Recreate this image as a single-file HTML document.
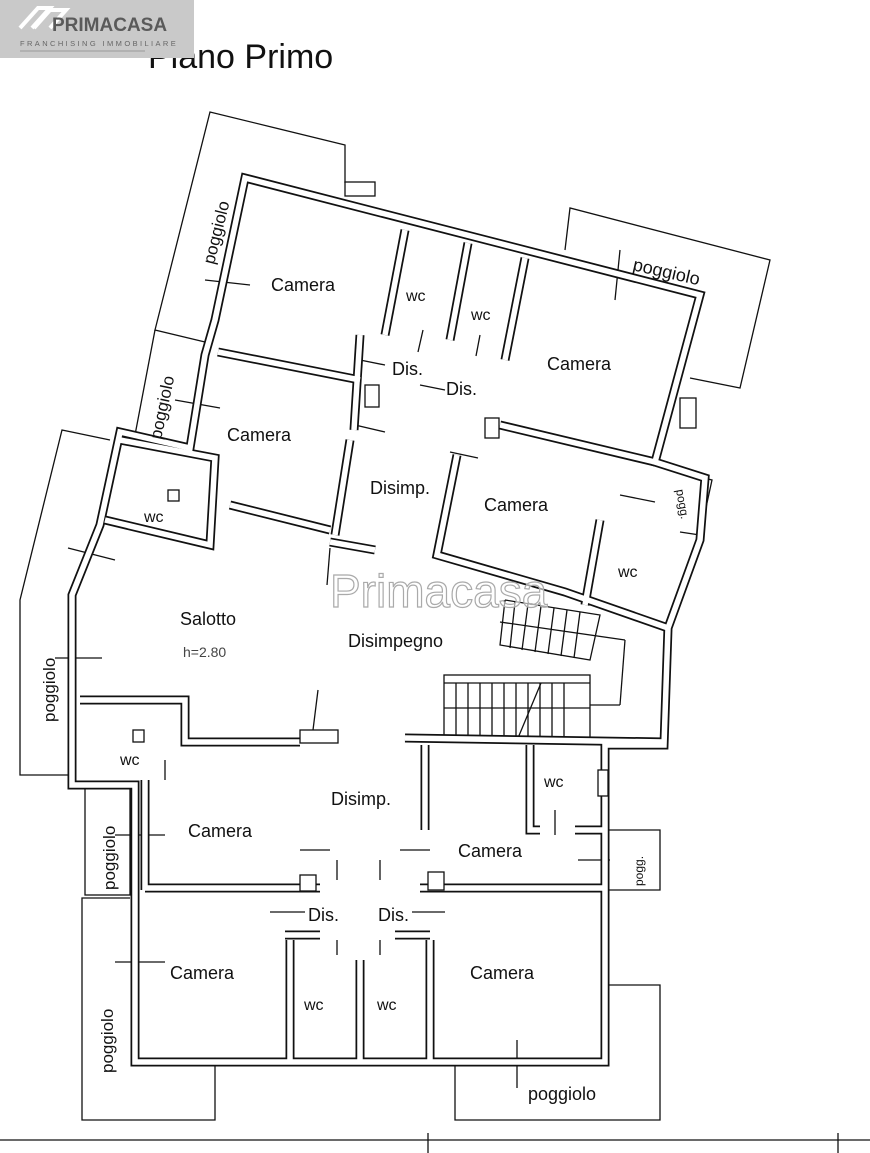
<!DOCTYPE html>
<html><head><meta charset="utf-8"><style>
html,body{margin:0;padding:0;background:#fff;}
svg{display:block}
text{font-family:"Liberation Sans",Arial,sans-serif;fill:#111}
</style></head><body>
<svg width="870" height="1153" viewBox="0 0 870 1153" xmlns="http://www.w3.org/2000/svg">
<rect width="870" height="1153" fill="#fff"/>
<text x="148" y="68" font-size="34">Piano Primo</text>
<!-- logo -->
<rect x="0" y="0" width="194" height="58" fill="#c9c9c9"/>
<path d="M20 28 L38 8 L50 8 L32 28 M34 28 L50 10 L66 10 L50 28" stroke="#fff" stroke-width="4" fill="none"/>
<text x="52" y="31" font-size="19" font-weight="bold" fill="#555" style="fill:#5a5a5a">PRIMACASA</text>
<text x="20" y="46" font-size="7.5" letter-spacing="2.4" style="fill:#666">FRANCHISING IMMOBILIARE</text>
<line x1="20" y1="51" x2="145" y2="51" stroke="#888" stroke-width="0.8"/>

<g fill="none" stroke="#111" stroke-width="1.3">
<!-- balconies -->
<polyline points="345,183 345,145 210,112 155,330 205,342"/>
<polyline points="155,330 135,435 185,447"/>
<polyline points="565,250 570,208 770,260 740,388 690,378"/>
<polyline points="110,440 62,430 20,600 20,775 70,775"/>
<polyline points="672,470 712,480 700,535 680,532"/>
<rect x="85" y="785" width="45" height="110"/>
<polyline points="130,898 82,898 82,1120 215,1120 215,1065"/>
<polyline points="455,1065 455,1120 660,1120 660,985 605,985"/>
<polyline points="605,830 660,830 660,890 605,890"/>
<line x1="0" y1="1140" x2="870" y2="1140"/>
<line x1="428" y1="1133" x2="428" y2="1153"/>
<line x1="838" y1="1133" x2="838" y2="1153"/>
<!-- stairs -->
<polyline points="505,600 600,615 590,660 500,645 505,600"/>
<line x1="500" y1="622" x2="625" y2="640"/><line x1="625" y1="640" x2="620" y2="705"/><line x1="620" y1="705" x2="590" y2="705"/>
<line x1="515" y1="602" x2="510" y2="648"/><line x1="528" y1="604" x2="522" y2="650"/><line x1="541" y1="606" x2="535" y2="652"/>
<line x1="554" y1="608" x2="548" y2="654"/><line x1="567" y1="610" x2="561" y2="656"/><line x1="580" y1="612" x2="574" y2="658"/>
<rect x="444" y="675" width="146" height="63"/>
<line x1="444" y1="683" x2="590" y2="683"/><line x1="444" y1="708" x2="590" y2="708"/>
<line x1="456" y1="683" x2="456" y2="738"/><line x1="468" y1="683" x2="468" y2="738"/><line x1="480" y1="683" x2="480" y2="738"/>
<line x1="492" y1="683" x2="492" y2="738"/><line x1="504" y1="683" x2="504" y2="738"/><line x1="516" y1="683" x2="516" y2="738"/>
<line x1="528" y1="683" x2="528" y2="738"/><line x1="540" y1="683" x2="540" y2="738"/><line x1="552" y1="683" x2="552" y2="738"/>
<line x1="564" y1="683" x2="564" y2="738"/><line x1="541" y1="683" x2="518" y2="738"/>
<!-- door ticks -->
<line x1="205" y1="280" x2="250" y2="285"/><line x1="615" y1="300" x2="620" y2="250"/>
<line x1="175" y1="400" x2="220" y2="408"/><line x1="360" y1="360" x2="385" y2="365"/><line x1="420" y1="385" x2="445" y2="390"/>
<line x1="355" y1="425" x2="385" y2="432"/><line x1="450" y1="452" x2="478" y2="458"/>
<line x1="620" y1="495" x2="655" y2="502"/><line x1="68" y1="548" x2="115" y2="560"/><line x1="55" y1="658" x2="102" y2="658"/>
<line x1="115" y1="835" x2="165" y2="835"/><line x1="115" y1="962" x2="165" y2="962"/><line x1="517" y1="1040" x2="517" y2="1088"/>
<line x1="578" y1="860" x2="610" y2="860"/><line x1="300" y1="850" x2="330" y2="850"/><line x1="400" y1="850" x2="430" y2="850"/>
<line x1="270" y1="912" x2="305" y2="912"/><line x1="412" y1="912" x2="445" y2="912"/>
<line x1="337" y1="860" x2="337" y2="880"/><line x1="337" y1="940" x2="337" y2="955"/><line x1="380" y1="860" x2="380" y2="880"/><line x1="380" y1="940" x2="380" y2="955"/>
<line x1="423" y1="330" x2="418" y2="352"/><line x1="480" y1="335" x2="476" y2="356"/>
<line x1="165" y1="760" x2="165" y2="780"/><line x1="555" y1="810" x2="555" y2="835"/>
<line x1="330" y1="548" x2="327" y2="585"/><line x1="318" y1="690" x2="313" y2="730"/>
</g>

<!-- walls: double lines -->
<g fill="none" stroke-linejoin="miter">
<g id="w" stroke="#111" stroke-width="9">
<polygon points="245,178 700,295 655,462 705,478 700,540 668,628 664,745 605,745 605,1062 135,1062 135,785 72,785 72,595 100,525 120,432 190,448 205,355 215,320"/>
<polyline points="218,352 360,380"/><polyline points="500,425 655,462"/>
<polyline points="405,230 385,335"/><polyline points="468,243 450,340"/><polyline points="525,258 505,360"/>
<polyline points="120,440 215,458 210,545 105,520"/><polyline points="230,505 330,530"/><polyline points="330,542 375,550"/>
<polyline points="457,455 437,555 565,592 668,628"/><polyline points="600,520 585,605"/>
<polyline points="80,700 185,700 185,742 300,742"/><polyline points="405,738 664,742"/>
<polyline points="425,745 425,830"/><polyline points="530,745 530,830 540,830"/><polyline points="575,830 605,830"/>
<polyline points="145,888 320,888"/><polyline points="420,888 605,888"/>
<polyline points="290,940 290,1062"/><polyline points="360,960 360,1062"/><polyline points="430,940 430,1062"/>
<polyline points="145,780 145,890"/><polyline points="285,935 320,935"/><polyline points="395,935 430,935"/>
<polyline points="360,335 354,430"/><polyline points="350,440 335,535"/>
</g>
<g stroke="#fff" stroke-width="5.5">
<polygon points="245,178 700,295 655,462 705,478 700,540 668,628 664,745 605,745 605,1062 135,1062 135,785 72,785 72,595 100,525 120,432 190,448 205,355 215,320"/>
<polyline points="218,352 360,380"/><polyline points="500,425 655,462"/>
<polyline points="405,230 385,335"/><polyline points="468,243 450,340"/><polyline points="525,258 505,360"/>
<polyline points="120,440 215,458 210,545 105,520"/><polyline points="230,505 330,530"/><polyline points="330,542 375,550"/>
<polyline points="457,455 437,555 565,592 668,628"/><polyline points="600,520 585,605"/>
<polyline points="80,700 185,700 185,742 300,742"/><polyline points="405,738 664,742"/>
<polyline points="425,745 425,830"/><polyline points="530,745 530,830 540,830"/><polyline points="575,830 605,830"/>
<polyline points="145,888 320,888"/><polyline points="420,888 605,888"/>
<polyline points="290,940 290,1062"/><polyline points="360,960 360,1062"/><polyline points="430,940 430,1062"/>
<polyline points="145,780 145,890"/><polyline points="285,935 320,935"/><polyline points="395,935 430,935"/>
<polyline points="360,335 354,430"/><polyline points="350,440 335,535"/>
</g>
</g>
<g fill="#fff" stroke="#111" stroke-width="1.3">
<rect x="345" y="182" width="30" height="14"/><rect x="300" y="730" width="38" height="13"/>
<rect x="300" y="875" width="16" height="16"/><rect x="428" y="872" width="16" height="18"/>
<rect x="365" y="385" width="14" height="22"/><rect x="485" y="418" width="14" height="20"/>
<rect x="168" y="490" width="11" height="11"/><rect x="133" y="730" width="11" height="12"/>
<rect x="680" y="398" width="16" height="30"/><rect x="598" y="770" width="10" height="26"/>
</g>

<!-- labels -->
<g font-size="18">
<text x="271" y="291">Camera</text><text x="547" y="370">Camera</text>
<text x="227" y="441">Camera</text><text x="484" y="511">Camera</text>
<text x="188" y="837">Camera</text><text x="458" y="857">Camera</text>
<text x="170" y="979">Camera</text><text x="470" y="979">Camera</text>
<text x="180" y="625">Salotto</text><text x="348" y="647">Disimpegno</text>
<text x="370" y="494">Disimp.</text><text x="331" y="805">Disimp.</text>
<text x="392" y="375">Dis.</text><text x="446" y="395">Dis.</text>
<text x="308" y="921">Dis.</text><text x="378" y="921">Dis.</text>
<text x="528" y="1100">poggiolo</text>
<text x="632" y="270" transform="rotate(13 632 270)">poggiolo</text>
</g>
<g font-size="16">
<text x="406" y="301">wc</text><text x="471" y="320">wc</text><text x="144" y="522">wc</text>
<text x="618" y="577">wc</text><text x="120" y="765">wc</text><text x="544" y="787">wc</text>
<text x="304" y="1010">wc</text><text x="377" y="1010">wc</text>
</g>
<text x="183" y="657" font-size="14" style="fill:#444">h=2.80</text>
<g font-size="17">
<text transform="translate(214 265) rotate(-76)">poggiolo</text>
<text transform="translate(161 440) rotate(-78)">poggiolo</text>
<text transform="translate(55 722) rotate(-90)">poggiolo</text>
<text transform="translate(115 890) rotate(-90)">poggiolo</text>
<text transform="translate(113 1073) rotate(-90)">poggiolo</text>
</g>
<g font-size="12">
<text transform="translate(676 490) rotate(80)">pogg.</text>
<text transform="translate(643 886) rotate(-90)">pogg.</text>
</g>
<text x="330" y="607" font-size="46" fill="none" stroke="#aaa" stroke-width="1.2" style="fill:rgba(255,255,255,0.6)">Primacasa</text>
</svg>
</body></html>
